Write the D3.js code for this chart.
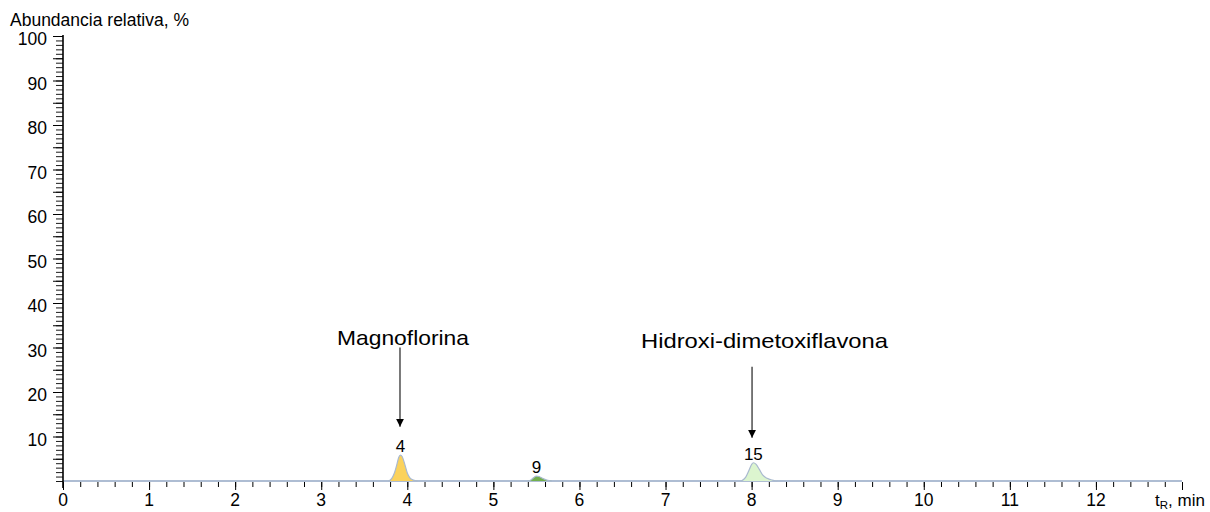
<!DOCTYPE html>
<html>
<head>
<meta charset="utf-8">
<script src="https://cdn.jsdelivr.net/npm/d3@7"></script>
<style>
  body { margin: 0; background: #fff; }
  svg { display: block; font-family: "Liberation Sans", Arial, sans-serif; }
</style>
</head>
<body>
<svg id="chart"></svg>
<script>
// chromatogram values
const xTicks = [0, 1, 2, 3, 4, 5, 6, 7, 8, 9, 10, 11, 12];
const yTicks = [10, 20, 30, 40, 50, 60, 70, 80, 90, 100];

const peakIds = ["4", "9", "15"];
const peakColors = ["#fbd25c", "#73b04e", "#dcf5cf"];
const peakTimes = [
  [3.78, 3.82, 3.85, 3.88, 3.90, 3.92, 3.94, 3.97, 4.00, 4.03, 4.07, 4.12],
  [5.40, 5.44, 5.47, 5.50, 5.53, 5.57, 5.62, 5.68],
  [7.88, 7.93, 7.97, 8.00, 8.02, 8.05, 8.09, 8.13, 8.18, 8.24, 8.30]
];
const peakValues = [
  [0, 0.6, 1.8, 3.8, 5.3, 5.8, 5.5, 3.8, 1.8, 0.7, 0.2, 0],
  [0, 0.3, 0.8, 1.1, 1.0, 0.6, 0.2, 0],
  [0, 0.8, 2.4, 3.7, 4.1, 3.8, 2.6, 1.3, 0.6, 0.2, 0]
];

const annNames = ["Magnoflorina", "Hidroxi-dimetoxiflavona"];
const annArrowX = [3.915, 8.005];
const annTextX = [3.95, 8.15];
const annTextY = [30.6, 30.0];
const annArrowTop = [30, 25.7];
const annArrowTip = [12.2, 9.7];

const width = 1210, height = 512;
const svg = d3.select("#chart").attr("width", width).attr("height", height);

const x = d3.scaleLinear().domain([0, 13]).range([63, 1182]);
const y = d3.scaleLinear().domain([0, 100]).range([481, 36]);

// baseline trace
svg.append("line")
  .attr("x1", x(0)).attr("x2", x(13))
  .attr("y1", y(0)).attr("y2", y(0))
  .attr("stroke", "#aebdd3").attr("stroke-width", 2);

// peaks
const area = d3.area().curve(d3.curveMonotoneX)
  .x(d => x(d[0])).y0(y(0)).y1(d => y(d[1]));
const line = d3.line().curve(d3.curveMonotoneX)
  .x(d => x(d[0])).y(d => y(d[1]));

peakIds.forEach((id, i) => {
  const pts = peakTimes[i].map((t, j) => [t, peakValues[i][j]]);
  svg.append("path").attr("d", area(pts)).attr("fill", peakColors[i]);
  svg.append("path").attr("d", line(pts))
    .attr("fill", "none").attr("stroke", "#a9b9cf").attr("stroke-width", 1.2);
  const top = d3.maxIndex(peakValues[i]);
  svg.append("text")
    .attr("x", x(peakTimes[i][top]))
    .attr("y", y(peakValues[i][top]) - 3)
    .attr("text-anchor", "middle")
    .attr("font-size", 17)
    .text(id);
});

// x axis (ticks downward)
const xAxis = svg.append("g").attr("transform", `translate(0,${y(0) + 1})`);
xAxis.call(d3.axisBottom(x).tickValues(d3.range(0, 13.01, 0.2)).tickSize(5).tickFormat(""))
  .call(g => g.select(".domain").remove())
  .call(g => g.selectAll("line").attr("stroke", "#000"));
xAxis.append("g")
  .call(d3.axisBottom(x).tickValues(xTicks.concat([13])).tickSize(8).tickFormat(""))
  .call(g => g.select(".domain").remove())
  .call(g => g.selectAll("line").attr("stroke", "#000"));
xAxis.selectAll(".xlab").data(xTicks).enter().append("text")
  .attr("class", "xlab")
  .attr("x", d => x(d)).attr("y", 24)
  .attr("text-anchor", "middle").attr("font-size", 17.5).attr("fill", "#000")
  .text(d => d);

const xTitle = xAxis.append("text").attr("x", 1155).attr("y", 24)
  .attr("text-anchor", "start")
  .attr("font-size", 17).attr("fill", "#000");
xTitle.append("tspan").text("t");
xTitle.append("tspan").attr("font-size", 11.5).attr("dy", 3).text("R");
xTitle.append("tspan").attr("dy", -3).text(", min");

// y axis
const yAxis = svg.append("g").attr("transform", `translate(${x(0)},0)`);
yAxis.call(d3.axisLeft(y).tickValues(d3.range(0, 101, 1)).tickSize(7).tickFormat(""))
  .call(g => g.select(".domain").remove())
  .call(g => g.selectAll("line").attr("stroke", "#000").attr("stroke-width", 0.9));
yAxis.append("g")
  .call(d3.axisLeft(y).tickValues(d3.range(5, 101, 5)).tickSize(10).tickFormat(""))
  .call(g => g.select(".domain").remove())
  .call(g => g.selectAll("line").attr("stroke", "#000"));
yAxis.append("line")
  .attr("x1", 0).attr("x2", 0).attr("y1", y(100) - 1).attr("y2", y(0) + 7)
  .attr("stroke", "#000").attr("stroke-width", 1.6);
yAxis.selectAll(".ylab").data(yTicks).enter().append("text")
  .attr("class", "ylab")
  .attr("x", -16).attr("y", d => y(d) + 9)
  .attr("text-anchor", "end").attr("font-size", 17.5).attr("fill", "#000")
  .text(d => d);

svg.append("text").attr("x", 10).attr("y", 26)
  .attr("font-size", 17.5).text("Abundancia relativa, %");

// annotations with arrows
svg.append("defs").append("marker")
  .attr("id", "arrow").attr("viewBox", "0 0 10 10")
  .attr("refX", 10).attr("refY", 5)
  .attr("markerWidth", 8).attr("markerHeight", 9)
  .attr("markerUnits", "userSpaceOnUse")
  .attr("orient", "auto")
  .append("path").attr("d", "M0,0L10,5L0,10Z").attr("fill", "#000");

annNames.forEach((name, i) => {
  svg.append("line")
    .attr("x1", x(annArrowX[i])).attr("x2", x(annArrowX[i]))
    .attr("y1", y(annArrowTop[i])).attr("y2", y(annArrowTip[i]))
    .attr("stroke", "#333").attr("stroke-width", 1.3)
    .attr("marker-end", "url(#arrow)");
  svg.append("text")
    .attr("x", x(annTextX[i])).attr("y", y(annTextY[i]))
    .attr("text-anchor", "middle").attr("font-size", 21)
    .attr("textLength", name === "Magnoflorina" ? 132 : 247)
    .attr("lengthAdjust", "spacingAndGlyphs")
    .text(name);
});
</script>
</body>
</html>
